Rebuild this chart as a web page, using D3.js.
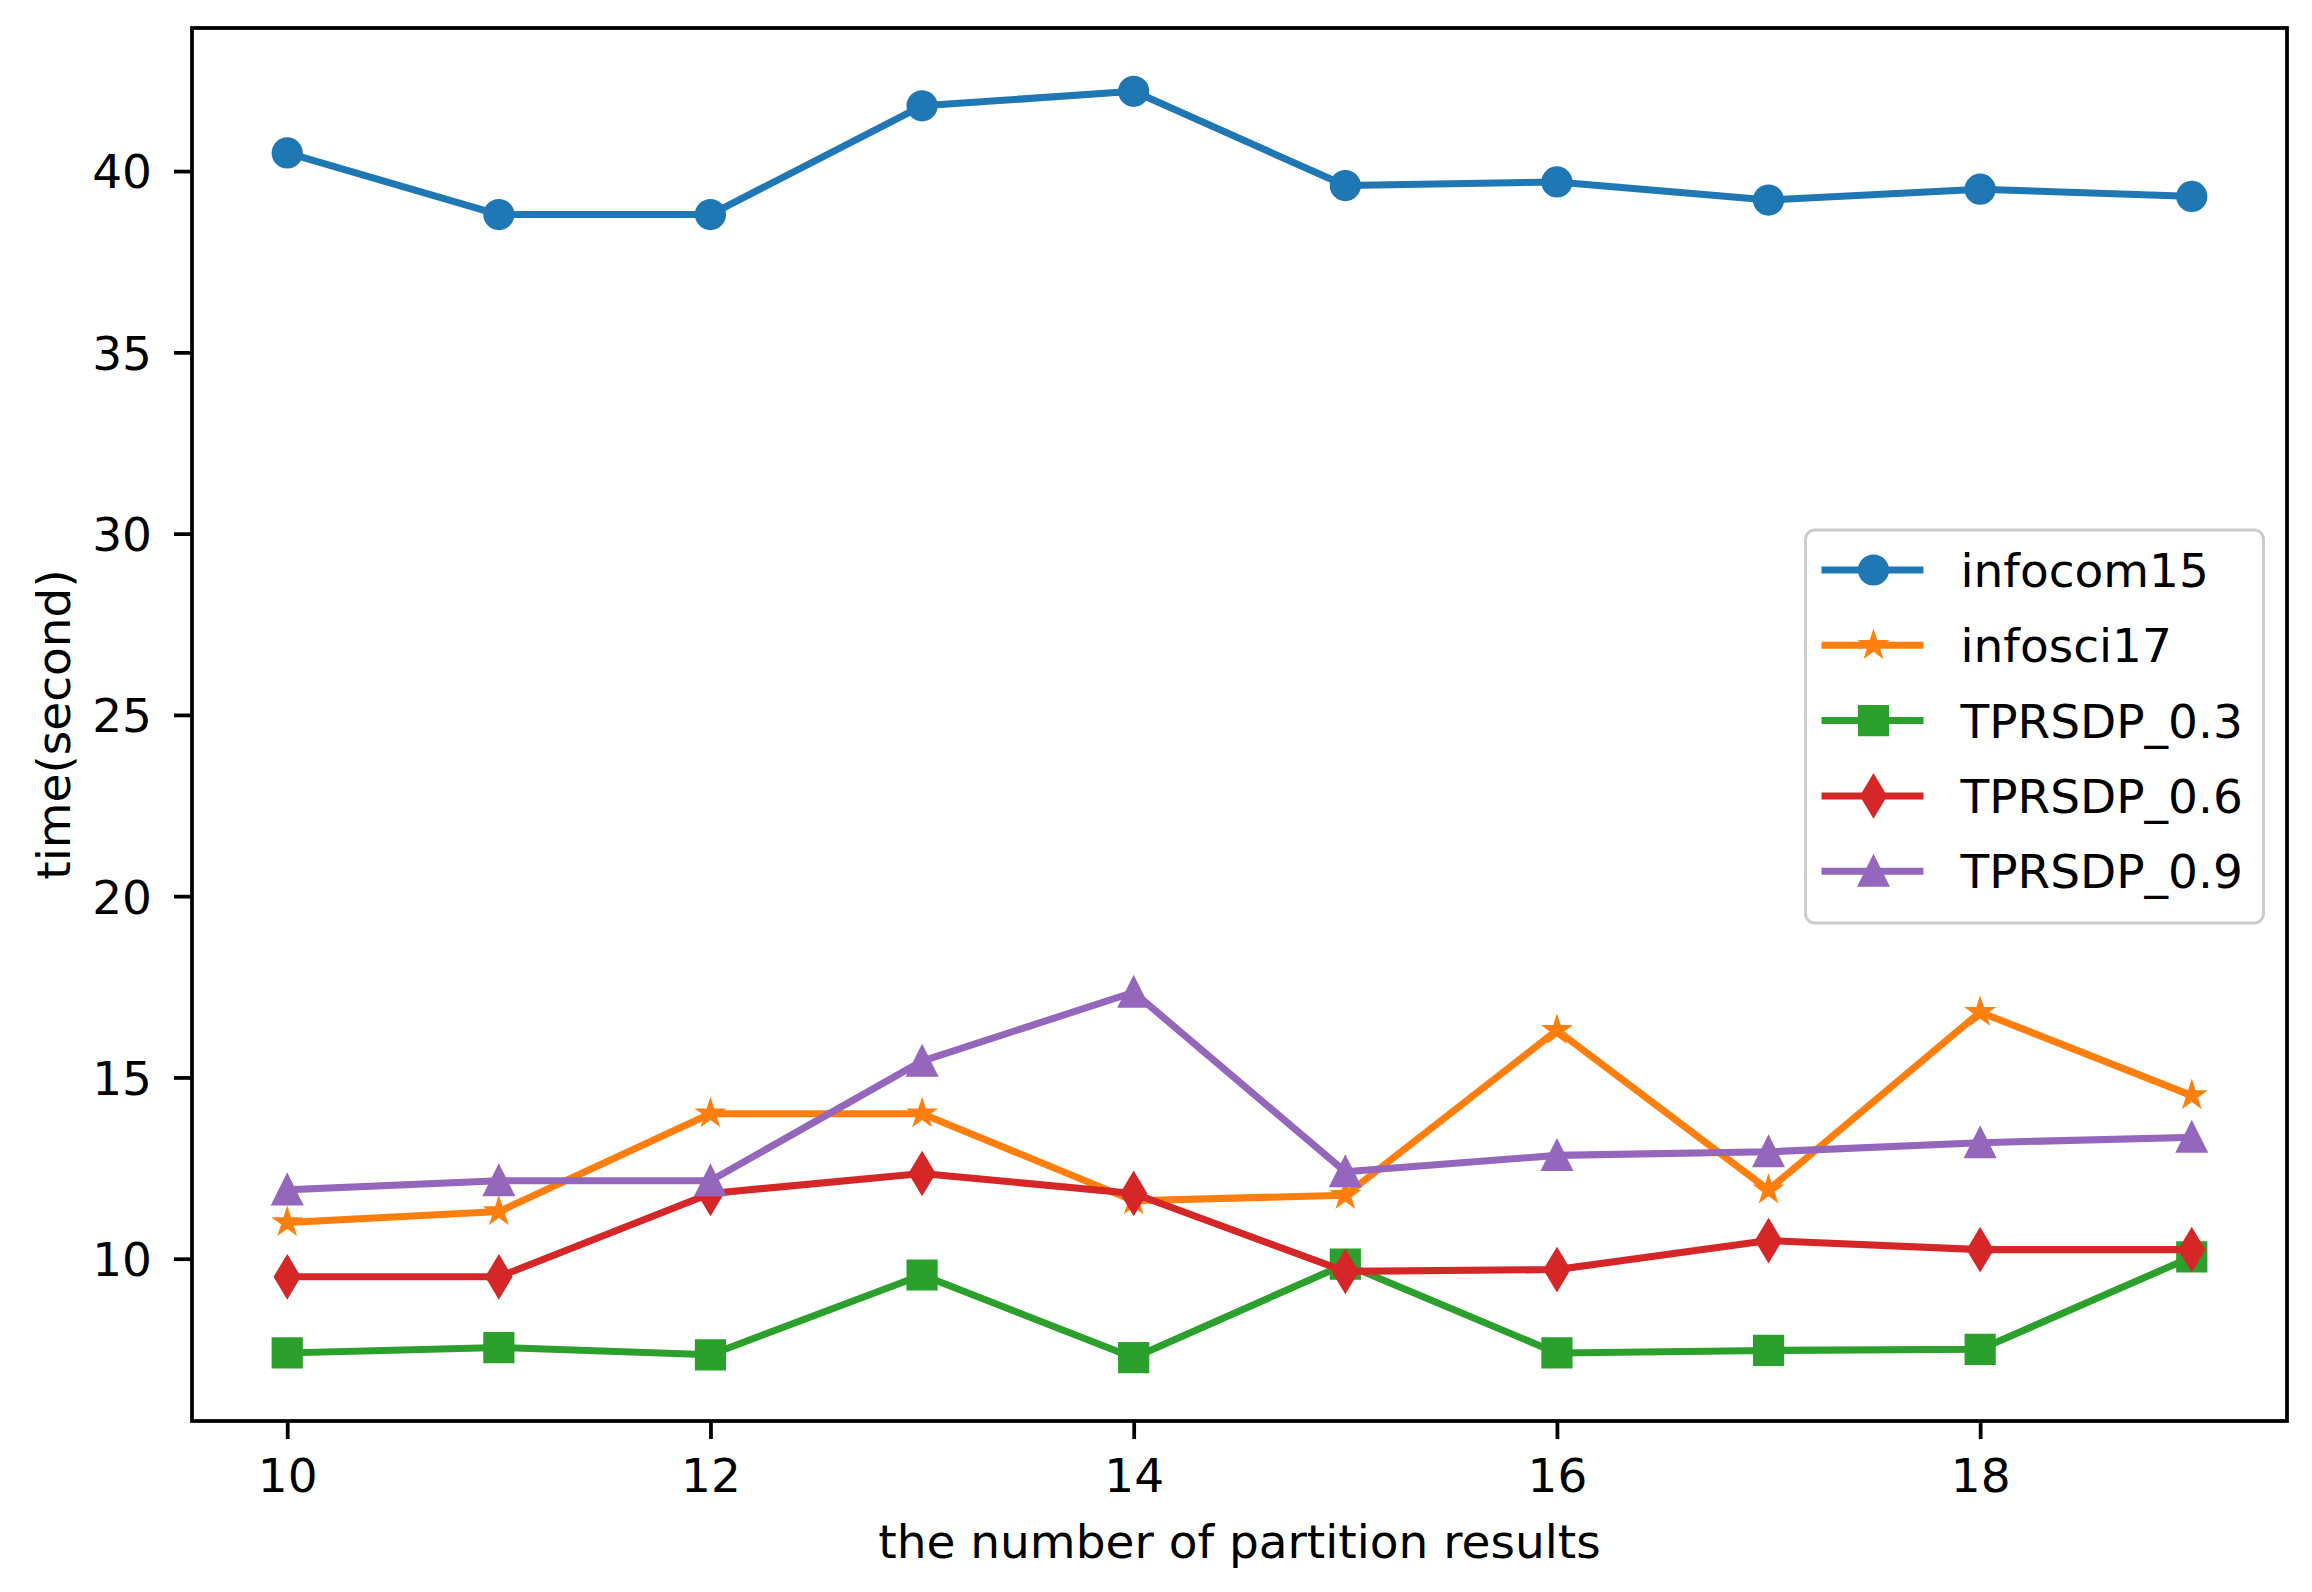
<!DOCTYPE html>
<html>
<head>
<meta charset="utf-8">
<script src="https://cdn.jsdelivr.net/npm/d3@7"></script>
<style>
  body { margin: 0; background: #fff; }
  text { font-family: "DejaVu Sans", sans-serif; fill: #000; }
</style>
</head>
<body>
<div class="chart"></div>
<script>
// data
var partitions = [10, 11, 12, 13, 14, 15, 16, 17, 18, 19];
var infocom15 = [40.5, 38.8, 38.8, 41.8, 42.2, 39.6, 39.7, 39.2, 39.5, 39.3];
var infosci17 = [11.0, 11.3, 14.0, 14.0, 11.6, 11.75, 16.3, 11.9, 16.8, 14.5];
var tprsdp03 = [7.4, 7.55, 7.35, 9.55, 7.27, 9.85, 7.4, 7.47, 7.5, 10.05];
var tprsdp06 = [9.5, 9.5, 11.8, 12.35, 11.8, 9.65, 9.7, 10.5, 10.25, 10.25];
var tprsdp09 = [11.9, 12.15, 12.15, 15.45, 17.35, 12.4, 12.85, 12.95, 13.2, 13.35];
var seriesNames = ["infocom15", "infosci17", "TPRSDP_0.3", "TPRSDP_0.6", "TPRSDP_0.9"];
var xTicks = [10, 12, 14, 16, 18];
var yTicks = [10, 15, 20, 25, 30, 35, 40];

var svgWidth = 2312;
var svgHeight = 1592;
var margin = { top: 28, right: 25, bottom: 171, left: 192 };
var width = svgWidth - margin.left - margin.right;
var height = svgHeight - margin.top - margin.bottom;

var pt = 4.7;           // px per point
var fontSize = 47;

var series = [
  { name: seriesNames[0], values: infocom15, color: "#1f77b4", marker: "circle" },
  { name: seriesNames[1], values: infosci17, color: "#ff7f0e", marker: "star" },
  { name: seriesNames[2], values: tprsdp03, color: "#2ca02c", marker: "square" },
  { name: seriesNames[3], values: tprsdp06, color: "#d62728", marker: "thindiamond" },
  { name: seriesNames[4], values: tprsdp09, color: "#9467bd", marker: "triangle" }
];

var svg = d3.select(".chart")
  .append("svg")
  .attr("width", svgWidth)
  .attr("height", svgHeight);

var chartGroup = svg.append("g")
  .attr("transform", `translate(${margin.left}, ${margin.top})`);

// matplotlib style 5% margins
var xMin = d3.min(partitions), xMax = d3.max(partitions);
var xPad = (xMax - xMin) * 0.05;
var allY = [].concat(infocom15, infosci17, tprsdp03, tprsdp06, tprsdp09);
var yMin = d3.min(allY), yMax = d3.max(allY);
var yPad = (yMax - yMin) * 0.05;

var xScale = d3.scaleLinear()
  .domain([xMin - xPad, xMax + xPad])
  .range([0, width]);

var yScale = d3.scaleLinear()
  .domain([yMin - yPad, yMax + yPad])
  .range([height, 0]);

// marker shapes (markersize 6pt)
function markerPath(type) {
  var ms = 6 * pt;
  var r = ms / 2;
  if (type === "circle") {
    var p = d3.path();
    p.moveTo(r, 0);
    p.arc(0, 0, r, 0, 2 * Math.PI);
    p.closePath();
    return p.toString();
  }
  if (type === "square") {
    return `M${-r},${-r}H${r}V${r}H${-r}Z`;
  }
  if (type === "triangle") {
    return `M0,${-r}L${r},${r}L${-r},${r}Z`;
  }
  if (type === "thindiamond") {
    var h = ms * Math.SQRT2 / 2, w = h * 0.6;
    return `M0,${-h}L${w},0L0,${h}L${-w},0Z`;
  }
  if (type === "star") {
    var pts = [];
    var rs = r * 0.85;
    for (var i = 0; i < 10; i++) {
      var rad = i % 2 === 0 ? rs : rs * 0.381966;
      var a = -Math.PI / 2 + i * Math.PI / 5;
      pts.push([rad * Math.cos(a), rad * Math.sin(a)]);
    }
    return "M" + pts.map(p => p.join(",")).join("L") + "Z";
  }
}

// axes
var bottomAxis = d3.axisBottom(xScale)
  .tickValues(xTicks)
  .tickFormat(d3.format("d"))
  .tickSize(18)
  .tickPadding(17);

var leftAxis = d3.axisLeft(yScale)
  .tickValues(yTicks)
  .tickFormat(d3.format("d"))
  .tickSize(18)
  .tickPadding(22);

var xAxisG = chartGroup.append("g")
  .attr("transform", `translate(0, ${height})`)
  .call(bottomAxis);

var yAxisG = chartGroup.append("g")
  .call(leftAxis);

[xAxisG, yAxisG].forEach(g => {
  g.select(".domain").remove();
  g.selectAll(".tick line").attr("stroke", "#000").attr("stroke-width", 0.8 * pt);
  g.selectAll(".tick text")
    .attr("font-size", fontSize)
    .attr("font-family", "DejaVu Sans")
    .attr("fill", "#000");
});
xAxisG.selectAll(".tick text").attr("dy", "0.76em");
yAxisG.selectAll(".tick text").attr("dy", "0.36em");

// lines and markers, in plotting order
var line = d3.line()
  .x((d, i) => xScale(partitions[i]))
  .y(d => yScale(d));

series.forEach(s => {
  var g = chartGroup.append("g");
  g.append("path")
    .datum(s.values)
    .attr("fill", "none")
    .attr("stroke", s.color)
    .attr("stroke-width", 1.5 * pt)
    .attr("stroke-linejoin", "round")
    .attr("stroke-linecap", "square")
    .attr("d", line);
  g.selectAll("path.marker")
    .data(s.values)
    .enter()
    .append("path")
    .attr("class", "marker")
    .attr("transform", (d, i) => `translate(${xScale(partitions[i])}, ${yScale(d)})`)
    .attr("d", markerPath(s.marker))
    .attr("fill", s.color)
    .attr("stroke", s.color)
    .attr("stroke-width", 3);
});

// frame
chartGroup.append("rect")
  .attr("x", 0)
  .attr("y", 0)
  .attr("width", width)
  .attr("height", height)
  .attr("fill", "none")
  .attr("stroke", "#000")
  .attr("stroke-width", 0.8 * pt);

// axis labels
chartGroup.append("text")
  .attr("x", width / 2)
  .attr("y", height + 137)
  .attr("text-anchor", "middle")
  .attr("font-size", fontSize)
  .text("the number of partition results");

chartGroup.append("text")
  .attr("transform", `translate(${70 - margin.left}, ${height / 2}) rotate(-90)`)
  .attr("text-anchor", "middle")
  .attr("font-size", fontSize)
  .text("time(second)");

// legend, center right
var rowGap = 75.3;
var legendW = 458, legendH = 393;
var legendX = width - 0.5 * fontSize - legendW;
var legendY = 530 - margin.top;
var legend = chartGroup.append("g")
  .attr("transform", `translate(${legendX}, ${legendY})`);

legend.append("rect")
  .attr("width", legendW)
  .attr("height", legendH)
  .attr("rx", 0.2 * fontSize)
  .attr("fill", "#fff")
  .attr("fill-opacity", 0.8)
  .attr("stroke", "#cccccc")
  .attr("stroke-width", 3);

var item = legend.selectAll("g.item")
  .data(series)
  .enter()
  .append("g")
  .attr("class", "item")
  .attr("transform", (d, i) => `translate(16, ${40 + i * rowGap})`);

item.append("line")
  .attr("x1", 0)
  .attr("x2", 102)
  .attr("stroke", d => d.color)
  .attr("stroke-width", 1.5 * pt);

item.append("path")
  .attr("transform", "translate(52, 0)")
  .attr("d", d => markerPath(d.marker))
  .attr("fill", d => d.color)
  .attr("stroke", d => d.color)
  .attr("stroke-width", 3);

item.append("text")
  .attr("x", 139)
  .attr("dy", "0.36em")
  .attr("font-size", fontSize)
  .text(d => d.name);
</script>
</body>
</html>
